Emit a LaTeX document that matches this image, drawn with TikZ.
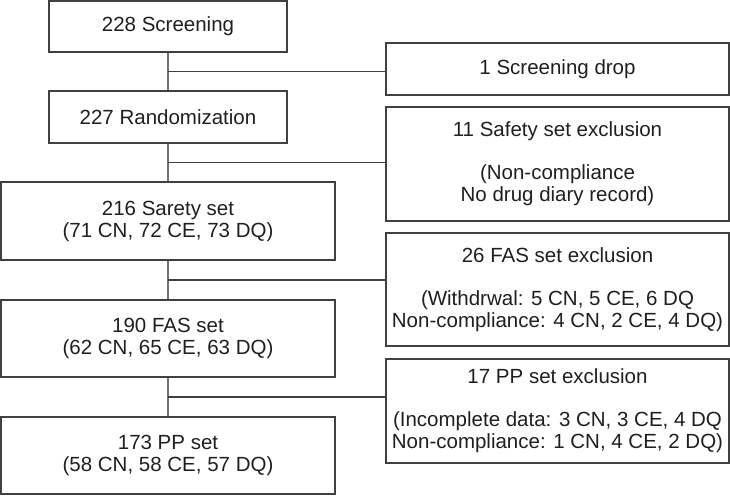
\documentclass[tikz,border=0pt]{standalone}
\usepackage{fontspec}
\setmainfont{Liberation Sans}
\usetikzlibrary{calc}

\begin{document}
\begin{tikzpicture}[x=1pt, y=-1pt,
    setbox/.style={draw=black!75, line width=1.2pt, inner sep=0pt, align=center,
        text=black!88, font=\fontsize{20.5}{22}\selectfont},
    leftbox/.style={setbox, minimum width=334pt, minimum height=77pt},
    exclbox/.style={setbox, minimum width=343pt},
    trunk/.style={draw=black!55, line width=1.3pt},
    branch/.style={draw=black!75, line width=1.2pt}]
    \useasboundingbox (0,0) rectangle (730,496);

    % Main flow on the left
    \node[setbox, minimum width=238pt, minimum height=51pt] (scr) at (168,26.5) {228 Screening};
    \node[setbox, minimum width=238pt, minimum height=52pt] (rand) at (168,117) {227 Randomization};
    \node[leftbox, minimum height=78pt] (safe) at (168,221) {216 Sarety set\\(71 CN, 72 CE, 73 DQ)};
    \node[leftbox] (fas) at (168,338.5) {190 FAS set\\(62 CN, 65 CE, 63 DQ)};
    \node[leftbox] (pp) at (168,455.5) {173 PP set\\(58 CN, 58 CE, 57 DQ)};

    % Exclusions on the right
    \node[exclbox, minimum height=52pt] (drop) at (557.5,69) {1 Screening drop};
    \node[exclbox, minimum height=114pt] (safex) at (557.5,164)
        {11 Safety set exclusion\\[21pt](Non-compliance\\No drug diary record)};
    \node[exclbox, minimum height=113pt] (fasex) at (557.5,289.5)
        {26 FAS set exclusion\\[21pt](Withdrwal: 5 CN, 5 CE, 6 DQ\\Non-compliance: 4 CN, 2 CE, 4 DQ)};
    \node[exclbox, minimum height=104pt] (ppex) at (557.5,411)
        {17 PP set exclusion\\[21pt](Incomplete data: 3 CN, 3 CE, 4 DQ\\Non-compliance: 1 CN, 4 CE, 2 DQ)};

    % Branch points between the boxes
    \coordinate (b1) at ($(scr.south)!0.5!(rand.north)$);
    \coordinate (b2) at ($(rand.south)!0.5!(safe.north)$);
    \coordinate (b3) at ($(safe.south)!0.5!(fas.north)$);
    \coordinate (b4) at ($(fas.south)!0.5!(pp.north)$);

    % Trunk
    \draw[trunk] (scr.south) -- (rand.north);
    \draw[trunk] (rand.south) -- (safe.north);
    \draw[trunk] (safe.south) -- (fas.north);
    \draw[trunk] (fas.south) -- (pp.north);

    % Branches
    \draw[branch] (b1) -- (b1 -| drop.west);
    \draw[branch] (b2) -- (b2 -| safex.west);
    \draw[branch] (b3) -- (b3 -| fasex.west);
    \draw[branch] (b4) -- (b4 -| ppex.west);
\end{tikzpicture}
\end{document}
